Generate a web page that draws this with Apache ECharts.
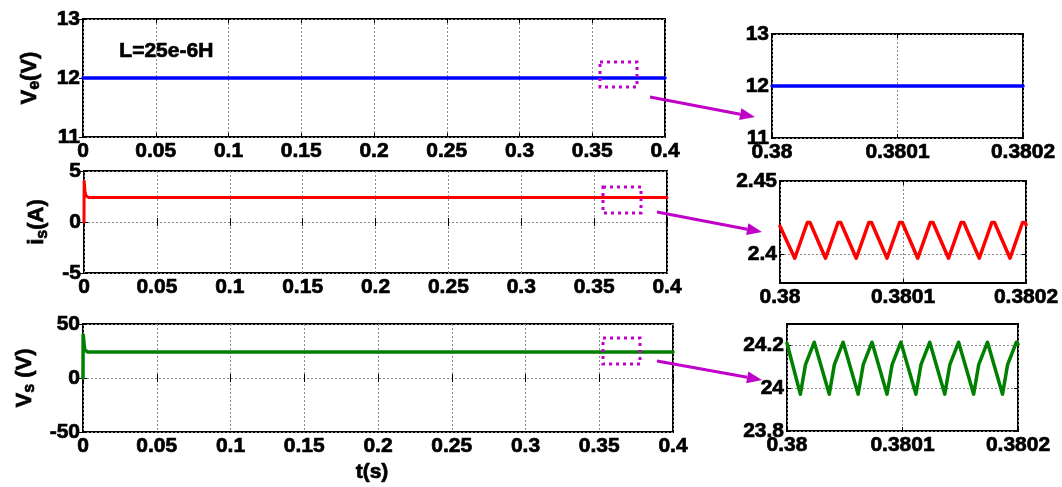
<!DOCTYPE html>
<html>
<head>
<meta charset="utf-8">
<script src="https://cdn.jsdelivr.net/npm/echarts@6/dist/echarts.min.js"></script>
<style>html,body{margin:0;padding:0;background:#fff;}#c{width:1062px;height:487px;}</style>
</head>
<body>
<div id="c"></div>
<script>
// ---------- data ----------
// left panels: full time range
const tVe = [0, 0.4];
const veVals = [12, 12];
const tIs = [0, 0.0001, 0.0003, 0.0007, 0.0012, 0.002, 0.003, 0.4];
const isVals = [0, 4.0, 3.7, 3.0, 2.6, 2.45, 2.41, 2.41];
const tVs = [0, 0.0001, 0.0004, 0.0008, 0.0013, 0.002, 0.003, 0.4];
const vsVals = [0, 40, 37, 30, 26, 24.5, 24.1, 24.1];
// right panels: zoom 0.38 .. 0.3802
const tVeZoom = [0.38, 0.3802];
const veZoom = [12, 12];
const tIsZoom = [0.38, 0.380012, 0.3800222, 0.3800244, 0.380037, 0.3800472, 0.3800494, 0.380062, 0.3800722, 0.3800744,
  0.380087, 0.3800972, 0.3800994, 0.380112, 0.3801222, 0.3801244, 0.380137, 0.3801472, 0.3801494,
  0.380162, 0.3801722, 0.3801744, 0.380187, 0.3801972, 0.3801994, 0.3802];
const isZoom = [2.419, 2.397, 2.4215, 2.4215, 2.397, 2.4215, 2.4215, 2.397, 2.4215, 2.4215,
  2.397, 2.4215, 2.4215, 2.397, 2.4215, 2.4215, 2.397, 2.4215, 2.4215,
  2.397, 2.4215, 2.4215, 2.397, 2.4215, 2.4215, 2.420];
const tVsZoom = [0.38, 0.3800116, 0.380016, 0.3800236, 0.3800366, 0.380041, 0.3800486, 0.3800616, 0.380066,
  0.3800736, 0.3800866, 0.380091, 0.3800986, 0.3801116, 0.380116, 0.3801236, 0.3801366, 0.380141,
  0.3801486, 0.3801616, 0.380166, 0.3801736, 0.3801866, 0.380191, 0.3801986, 0.3802];
const vsZoom = [24.21, 23.972, 24.11, 24.215, 23.972, 24.11, 24.215, 23.972, 24.11,
  24.215, 23.972, 24.11, 24.215, 23.972, 24.11, 24.215, 23.972, 24.11,
  24.215, 23.972, 24.11, 24.215, 23.972, 24.11, 24.215, 24.205];
// tick labels
const xTicksZoom = [0.38, 0.3801, 0.3802];
const yTicksIsZoom = [2.4, 2.45];
const yTicksVsZoom = [23.8, 24, 24.2];
const annotation = 'L=25e-6H';

// ---------- chart ----------
const FONT = 'Liberation Sans, Arial, sans-serif';
const MAG = '#c000c8';
const zip = (a, b) => a.map((v, i) => [v, b[i]]);
const fmt = v => String(+(+v).toFixed(6));

const grids = [
  {left: 83, top: 19, width: 582, height: 118},
  {left: 84, top: 171, width: 583, height: 102},
  {left: 83, top: 324, width: 590, height: 108},
  {left: 772, top: 34, width: 251, height: 104},
  {left: 780, top: 181, width: 246, height: 102},
  {left: 787, top: 324, width: 231, height: 107}
].map(g => Object.assign(g, {show: true, borderColor: '#000', borderWidth: 2, backgroundColor: '#fff'}));

const gridLine = {show: true, lineStyle: {color: '#8a8a8a', width: 1, type: [2, 2]}};
const heavy = {textBorderColor: '#000', textBorderWidth: 0.7};
const labelStyle = Object.assign({color: '#000', fontFamily: FONT, fontWeight: 'bold', fontSize: 21}, heavy);

function xAx(gi, cfg) {
  const base = Object.assign({type: 'value', gridIndex: gi, axisLine: {show: false}}, cfg);
  const main = Object.assign({}, base, {
    position: 'bottom',
    axisTick: Object.assign({show: true, inside: true, length: 4, lineStyle: {color: '#000', width: 1}}, cfg.custom ? {customValues: cfg.custom} : {}),
    axisLabel: Object.assign({show: true, margin: 4, formatter: fmt}, labelStyle, cfg.custom ? {customValues: cfg.custom} : {}),
    splitLine: gridLine
  });
  const mirror = Object.assign({}, base, {
    position: 'top',
    axisTick: Object.assign({show: true, inside: true, length: 4, lineStyle: {color: '#000', width: 1}}, cfg.custom ? {customValues: cfg.custom} : {}),
    axisLabel: {show: false}, splitLine: {show: false}, name: ''
  });
  delete main.custom; delete mirror.custom;
  return [main, mirror];
}
function yAx(gi, cfg) {
  const base = Object.assign({type: 'value', gridIndex: gi, axisLine: {show: false}}, cfg);
  const main = Object.assign({}, base, {
    position: 'left',
    axisTick: Object.assign({show: true, inside: true, length: 4, lineStyle: {color: '#000', width: 1}}, cfg.custom ? {customValues: cfg.custom} : {}),
    axisLabel: Object.assign({show: true, margin: 3, formatter: fmt}, labelStyle, cfg.custom ? {customValues: cfg.custom} : {}),
    splitLine: gridLine
  });
  const mirror = Object.assign({}, base, {
    position: 'right',
    axisTick: Object.assign({show: true, inside: true, length: 4, lineStyle: {color: '#000', width: 1}}, cfg.custom ? {customValues: cfg.custom} : {}),
    axisLabel: {show: false}, splitLine: {show: false}, name: ''
  });
  delete main.custom; delete mirror.custom;
  return [main, mirror];
}
const richName = {
  a: Object.assign({fontFamily: FONT, fontWeight: 'bold', fontSize: 22, color: '#000'}, heavy),
  b: Object.assign({fontFamily: FONT, fontWeight: 'bold', fontSize: 16, color: '#000', padding: [11, 0, 0, 0]}, heavy)
};
function yName(text, gap) {
  return {name: text, nameLocation: 'middle', nameRotate: 90, nameGap: gap, nameTextStyle: {rich: richName}};
}

const xAxis = [].concat(
  xAx(0, {min: 0, max: 0.4, interval: 0.05}),
  xAx(1, {min: 0, max: 0.4, interval: 0.05}),
  xAx(2, {min: 0, max: 0.4, interval: 0.05, name: 't(s)', nameLocation: 'middle', nameGap: 30,
    nameTextStyle: Object.assign({}, labelStyle, {padding: [0, 12, 0, 0]})}),
  xAx(3, {min: 0.38, max: 0.3802, custom: xTicksZoom}),
  xAx(4, {min: 0.38, max: 0.3802, custom: xTicksZoom}),
  xAx(5, {min: 0.38, max: 0.3802, custom: xTicksZoom})
);
const yAxis = [].concat(
  yAx(0, Object.assign({min: 11, max: 13, interval: 1}, yName('{a|V}{b|e}{a|(V)}', 40))),
  yAx(1, Object.assign({min: -5, max: 5, interval: 5}, yName('{a|i}{b|s}{a|(A)}', 32))),
  yAx(2, Object.assign({min: -50, max: 50, interval: 50}, yName('{a|V}{b|s}{a| (V)}', 45))),
  yAx(3, {min: 11, max: 13, interval: 1}),
  yAx(4, {min: 2.38, max: 2.45, custom: yTicksIsZoom}),
  yAx(5, {min: 23.8, max: 24.3, custom: yTicksVsZoom})
);

function line(i, data, color, width) {
  return {type: 'line', xAxisIndex: 2 * i, yAxisIndex: 2 * i, data: data, showSymbol: false, symbol: 'none',
    lineStyle: {color: color, width: width, join: 'round', cap: 'round'}, silent: true, z: 3};
}
const series = [
  line(0, zip(tVe, veVals), '#0000ff', 3.5),
  line(1, zip(tIs, isVals), '#ff0000', 3),
  line(2, zip(tVs, vsVals), '#008000', 3.5),
  line(3, zip(tVeZoom, veZoom), '#0000ff', 3.5),
  line(4, zip(tIsZoom, isZoom), '#ff0000', 3.5),
  line(5, zip(tVsZoom, vsZoom), '#008000', 3.5)
];

function arrow(x1, y1, x2, y2) {
  const ang = Math.atan2(y2 - y1, x2 - x1), L = 15, W = 6;
  const bx = x2 - L * Math.cos(ang), by = y2 - L * Math.sin(ang);
  const px = -Math.sin(ang) * W, py = Math.cos(ang) * W;
  return [
    {type: 'line', shape: {x1: x1, y1: y1, x2: bx, y2: by}, style: {stroke: MAG, lineWidth: 3}, z: 100},
    {type: 'polygon', shape: {points: [[x2, y2], [bx + px, by + py], [bx - px, by - py]]}, style: {fill: MAG}, z: 100}
  ];
}
function dotRect(x, y, w, h) {
  return {type: 'rect', shape: {x: x, y: y, width: w, height: h},
    style: {fill: null, stroke: MAG, lineWidth: 3, lineDash: [3, 4]}, z: 100};
}
const graphic = [
  {type: 'text', left: 119, top: 40, style: {text: annotation, font: 'bold 21px ' + FONT, fill: '#000', stroke: '#000', lineWidth: 0.7}, z: 100},
  dotRect(600, 62, 37, 25), dotRect(603, 187, 38, 26), dotRect(603, 338, 37, 26)
].concat(arrow(650, 97, 755, 117), arrow(657, 212, 762, 232), arrow(657, 361, 762, 380));

const chart = echarts.init(document.getElementById('c'), null, {renderer: 'canvas'});
chart.setOption({animation: false, backgroundColor: '#fff', grid: grids, xAxis: xAxis, yAxis: yAxis, series: series, graphic: graphic});
</script>
</body>
</html>
